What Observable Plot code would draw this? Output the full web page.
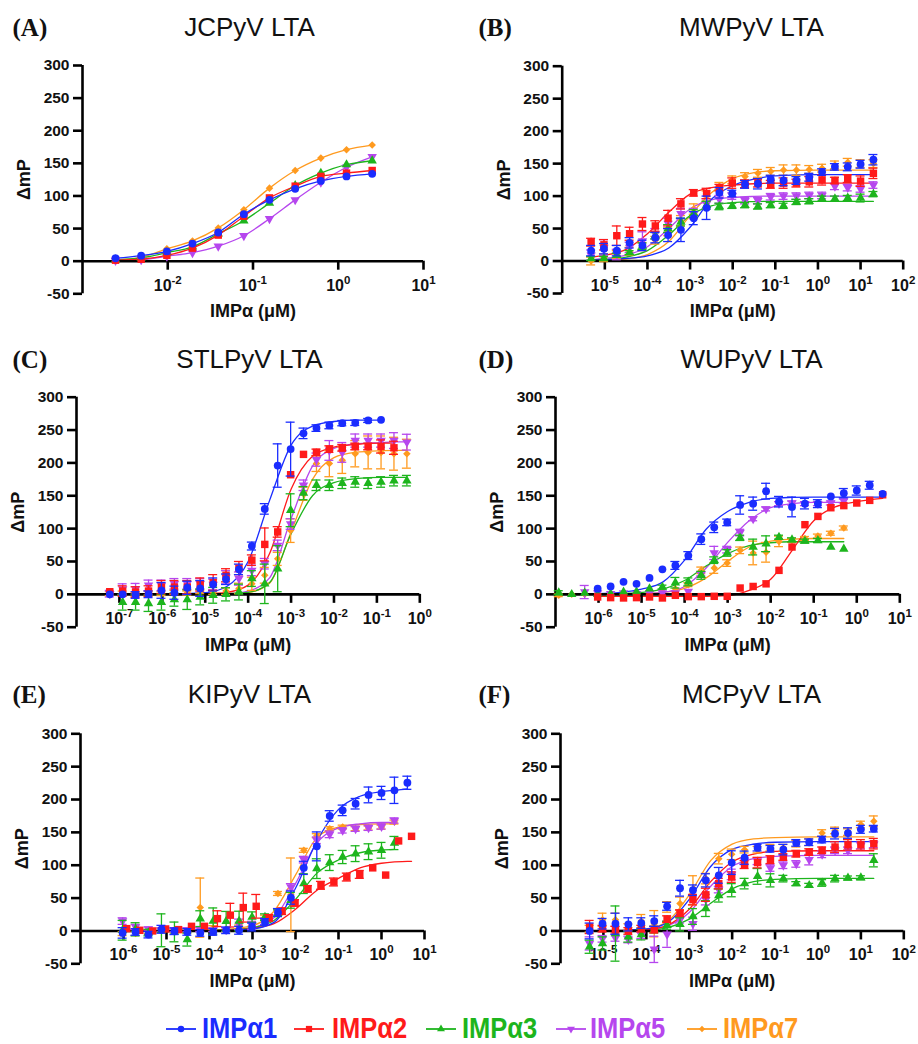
<!DOCTYPE html>
<html><head><meta charset="utf-8">
<script src="https://cdn.jsdelivr.net/npm/d3@7"></script>
<script src="https://cdn.jsdelivr.net/npm/@observablehq/plot@0.6"></script>
<style>
body{margin:0;background:#fff;}
#page{position:relative;width:918px;height:1044px;overflow:hidden;background:#fff;font-family:"Liberation Sans",Arial,sans-serif;}
#page svg.plot{position:absolute;}
.lg-icon{position:absolute;}
.lg-text{position:absolute;font-size:29px;line-height:24px;font-weight:bold;white-space:nowrap;transform:scaleX(0.88);transform-origin:0 0;}
</style></head>
<body><div id="page"></div>
<script>
// ---------------- data ----------------
const panelLabels = ["(A)", "(B)", "(C)", "(D)", "(E)", "(F)"];
const titles = ["JCPyV LTA", "MWPyV LTA", "STLPyV LTA", "WUPyV LTA", "KIPyV LTA", "MCPyV LTA"];
const seriesLabels = ["IMPα1", "IMPα2", "IMPα3", "IMPα5", "IMPα7"];
const yLabel = "ΔmP";
const xLabel = "IMPα (μM)";
const yTicks = [-50, 0, 50, 100, 150, 200, 250, 300];
const ticksA = [1e-2, 1e-1, 1, 10];
const ticksB = [1e-5, 1e-4, 1e-3, 1e-2, 1e-1, 1, 10, 100];
const ticksC = [1e-7, 1e-6, 1e-5, 1e-4, 1e-3, 1e-2, 1e-1, 1];
const ticksD = [1e-6, 1e-5, 1e-4, 1e-3, 1e-2, 1e-1, 1, 10];
const ticksE = [1e-6, 1e-5, 1e-4, 1e-3, 1e-2, 1e-1, 1, 10];
const ticksF = [1e-5, 1e-4, 1e-3, 1e-2, 1e-1, 1, 10, 100];

// Panel A (JCPyV)
const xA = [0.00244, 0.00488, 0.00977, 0.0195, 0.0391, 0.0781, 0.156, 0.3125, 0.625, 1.25, 2.5];
const A1 = [4.5, 8.5, 15, 27, 44, 72, 94, 111, 123, 130, 134];
const A2 = [1.5, 3, 9, 20, 40, 69, 97, 115, 130, 135, 139];
const A3 = [2, 5, 13, 22, 42, 62, 89, 116, 135, 148, 154];
const A5 = [1, 2, 7.5, 13, 23, 39, 65, 94, 121, 144, 160];
const A7 = [2, 6, 19, 31, 51, 79, 112, 139, 158, 171, 178];

// Panel B (MWPyV)
const xB = [4.77e-6, 9.54e-6, 1.91e-5, 3.81e-5, 7.63e-5, 1.53e-4, 3.05e-4, 6.10e-4, 1.22e-3, 2.44e-3, 4.88e-3, 9.77e-3, 1.95e-2, 3.91e-2, 7.81e-2, 0.156, 0.3125, 0.625, 1.25, 2.5, 5, 10, 20];
const B1 = [16, 19, 16, 28, 24, 36, 40, 48, 66, 82, 105, 104, 118, 119, 126, 124, 124, 129, 137, 145, 145, 149, 156];
const eB1 = [8, 8, 8, 8, 8, 8, 10, 18, 10, 18, 8, 5, 6, 8, 6, 8, 6, 6, 5, 5, 6, 6, 8];
const B2 = [29, 25, 39, 42, 57, 54, 66, 88, 105, 104, 113, 120, 119, 120, 118, 120, 120, 122, 125, 124, 127, 123, 135];
const eB2 = [6, 8, 15, 10, 10, 8, 12, 8, 5, 8, 5, 8, 6, 6, 6, 8, 6, 8, 8, 5, 6, 8, 8];
const B3 = [4, 4, 9, 13, 23, 39, 50, 60, 73, 86, 84, 85, 86, 84, 86, 85, 91, 92, 96, 96, 97, 97, 103];
const eB3 = [3, 3, 3, 3, 5, 5, 6, 6, 6, 6, 5, 4, 4, 4, 4, 4, 4, 4, 4, 4, 4, 6, 4];
const B5 = [9, 21, 10, 21, 31, 42, 58, 73, 73, 88, 95, 100, 93, 93, 99, 100, 100, 101, 101, 115, 113, 111, 117];
const eB5 = [8, 12, 8, 8, 14, 8, 8, 8, 8, 8, 6, 5, 5, 5, 5, 5, 5, 5, 5, 5, 5, 5, 5];
const B7 = [0, 5, 10, 15, 22, 32, 45, 62, 80, 100, 115, 125, 130, 135, 138, 140, 140, 141, 143, 148, 152, 150, 150];
const eB7 = [6, 6, 6, 6, 6, 6, 6, 8, 8, 8, 6, 6, 6, 6, 6, 8, 8, 6, 6, 6, 6, 6, 6];
const cxB = [4.77e-6, 1e-5, 3.16e-5, 1e-4, 3.16e-4, 1e-3, 3.16e-3, 1e-2, 3.16e-2, 0.1, 1, 10, 20];
const cB1 = [1, 2, 4, 8, 20, 52, 95, 116, 126, 131, 133, 133, 133];
const cB2 = [6, 9, 18, 42, 75, 103, 113, 117, 119, 120, 120, 120, 120];
const cB3 = [1, 2, 6, 16, 40, 70, 85, 90, 91.5, 92, 92, 92, 92];
const cB5 = [2, 4, 9, 22, 50, 80, 94, 98, 99.5, 100, 100, 100, 100];
const cB7 = [0, 1, 3, 10, 30, 70, 105, 127, 136, 139, 140, 140, 140];

// Panel C (STLPyV)
const xC = [5.96e-8, 1.19e-7, 2.38e-7, 4.77e-7, 9.54e-7, 1.91e-6, 3.81e-6, 7.63e-6, 1.53e-5, 3.05e-5, 6.10e-5, 1.22e-4, 2.44e-4, 4.88e-4, 9.77e-4, 1.95e-3, 3.91e-3, 7.81e-3, 1.56e-2, 3.13e-2, 6.25e-2, 0.125, 0.25, 0.5];
const C1 = [0, 0, -1, 0, 6, 2.5, 10, 9, 15, 23, 38, 73.5, 130, 196, 221, 245, 253, 257, 260.5, 261, 264.6, 265.6, null, null];
const eC1 = [0, 0, 5, 5, 12, 10, 10, 12, 10, 8, 8, 6, 8, 33, 41, 8, 5, 5, 4, 4, 3, 0, null, null];
const C2 = [4, 5, 3.5, 5, 11, 11, 11, 15, 18, 29, 40, 52, 76, 95, 182, 213, 216, 221, 223, 225, 225, 225, 223, null];
const eC2 = [0, 8, 8, 8, 10, 10, 10, 10, 12, 10, 10, 8, 25, 8, 0, 0, 5, 5, 5, 5, 5, 10, 10, null];
const C3 = [null, -12, -12, -14, -12, -8, -8, -4, -1.5, 0, 3.5, 24, 16, 39, 128, 154, 166, 166, 169, 171, 169, 171, 173, 173];
const eC3 = [null, 12, 12, 12, 12, 10, 15, 12, 12, 10, 12, 12, 30, 35, 25, 10, 8, 8, 8, 8, 8, 8, 8, 8];
const C5 = [1, 8, 8.6, 13.7, 13.7, 16, 16, 16, 15, 26, 24, 36.5, 46.6, 74.5, 107, 166, 205, 219, 216, 234, 234, 234, 234, 231.6];
const eC5 = [5, 8, 8, 8, 8, 8, 8, 8, 8, 10, 10, 8, 8, 8, 8, 8, 10, 15, 15, 10, 10, 10, 12, 12];
const C7 = [1, 2, 0, 2, 1, 3, 2, 4, 3, 5, 9, 16, 29, 54, 97, 153, 199, 199, 204, 214, 216, 216, 214, 214];
const eC7 = [3, 3, 3, 3, 3, 3, 3, 3, 3, 5, 8, 10, 12, 10, 18, 10, 12, 20, 20, 20, 25, 25, 25, 22];
const cxC = [5.96e-8, 1e-7, 1e-6, 1e-5, 3.16e-5, 1e-4, 3.16e-4, 1e-3, 3.16e-3, 1e-2, 3.16e-2, 0.125, 0.25, 0.5];
const cC1 = [0, 0, 0.3, 2.5, 12, 50, 143, 227, 256, 263, 265, 265, null, null];
const cC2 = [0, 0, 0, 1, 3, 14, 62, 160, 210, 224, 228, 230, 230, null];
const cC3 = [null, 0, 0, 0.2, 1, 3, 18, 92, 150, 170, 176, 178, 178, 178];
const cC5 = [0, 0, 0, 0.3, 1, 5, 25, 115, 195, 222, 229, 231, 232, 232];
const cC7 = [0, 0, 0, 0.2, 1, 3, 17, 95, 175, 208, 216, 218.5, 219, 219];

// Panel D (WUPyV)
const xD = [1.19e-7, 2.38e-7, 4.77e-7, 9.54e-7, 1.91e-6, 3.81e-6, 7.63e-6, 1.53e-5, 3.05e-5, 6.10e-5, 1.22e-4, 2.44e-4, 4.88e-4, 9.77e-4, 1.95e-3, 3.91e-3, 7.81e-3, 1.56e-2, 3.13e-2, 6.25e-2, 0.125, 0.25, 0.5, 1, 2, 4];
const D1 = [null, null, null, 8.6, 12, 19, 16, 25, 38, 44, 59, 84, 102, 109.5, 136, 138, 157, 141, 133, 138, 138, 149, 154, 158, 166, 153];
const eD1 = [null, null, null, 0, 0, 0, 0, 0, 0, 6, 6, 8, 8, 5, 14, 10, 12, 8, 15, 8, 6, 0, 7, 7, 6, 0];
const D2 = [null, null, null, -4, -5, -5.5, -5, -4, -5.5, -1.5, -3.5, -3.5, -3, -3, 9.6, 12, 16, 36.5, 72, 106, 118.6, 131.8, 135, 139, 143, 151.5];
const eD2 = [null, null, null, 0, 0, 0, 0, 0, 0, 0, 0, 0, 0, 0, 0, 0, 0, 0, 0, 0, 0, 0, 0, 0, 0, 0];
const D3 = [2.5, 0, 2, 0, 1, 3.5, 4, 8.6, 11, 17.7, 19, 29, 52, 63, 86, 72, 77, 87, 83, 81, 82, 72, 69, null, null, null];
const eD3 = [3, 0, 0, 0, 0, 0, 0, 0, 3, 8, 6, 6, 5, 5, 4, 12, 12, 3, 3, 3, 3, 0, 0, null, null, null];
const D5 = [null, null, 3.5, 2, 1, 2, 1, 2, 2, 2, 4.5, 31, 63, 68, 94, 115, 130, 138, 139, 138, 138, 139, 142, null, null, null];
const eD5 = [null, null, 10, 0, 0, 0, 0, 0, 0, 0, 0, 3, 10, 5, 5, 3, 3, 3, 3, 3, 3, 3, 3, null, null, null];
const D7 = [-1.5, 0, 0, 1, 1, 1, 2, 3, 4, 8.6, 14.7, 36.5, 40, 47.6, 67, 63, 64, 80.6, 82, 85, 88.7, 93, 101, null, null, null];
const eD7 = [2, 0, 0, 0, 0, 0, 0, 0, 0, 0, 3, 5, 8, 5, 5, 18, 15, 8, 3, 3, 3, 3, 3, null, null, null];
const cxD = [1.19e-7, 9.54e-7, 3.16e-6, 1e-5, 3.16e-5, 1e-4, 3.16e-4, 1e-3, 3.16e-3, 1e-2, 3.16e-2, 0.1, 0.316, 0.5, 1, 4];
const cD1 = [null, 1, 3, 8, 19, 52, 99, 126, 140, 146, 147.5, 148, 148, 148, 148, 148];
const cD2 = [null, -3, -3, -3, -3, -3, -3, -2, 6, 23, 67, 112, 133, 137, 141, 146];
const cD3 = [0, 0.5, 1, 3, 8, 21, 43, 62, 74, 78.5, 80, 80, 80, 80, null, null];
const cD5 = [0, 0.2, 0.5, 1, 3, 12, 40, 79, 112, 132, 138, 140, 140, 140, null, null];
const cD7 = [0, 0, 0.3, 1, 3, 9, 25, 50, 72, 81, 84, 85, 85, 85, null, null];

// Panel E (KIPyV)
const xE = [9.54e-7, 1.91e-6, 3.81e-6, 7.63e-6, 1.53e-5, 3.05e-5, 6.10e-5, 1.22e-4, 2.44e-4, 4.88e-4, 9.77e-4, 1.95e-3, 3.91e-3, 7.81e-3, 1.56e-2, 3.13e-2, 6.25e-2, 0.125, 0.25, 0.5, 1, 2, 4];
const xE2 = [1.19e-6, 2.38e-6, 4.77e-6, 9.54e-6, 1.91e-5, 3.81e-5, 7.63e-5, 1.53e-4, 3.05e-4, 6.10e-4, 1.22e-3, 2.44e-3, 4.88e-3, 9.77e-3, 1.95e-2, 3.91e-2, 7.81e-2, 0.156, 0.3125, 0.625, 1.25, 2.5, 5];
const E1 = [-3, -1.5, -5.6, 2.5, -0.5, -1.5, -3, -1.5, 1, 1, 6, 13.7, 28, 50.7, 96, 128.7, 175, 183.5, 193.6, 207, 210, 214, 225.5];
const eE1 = [8, 5, 5, 6, 5, 5, 5, 5, 5, 6, 6, 5, 6, 10, 10, 22, 8, 8, 8, 12, 10, 20, 10];
const E2 = [3.5, 1, 0, 3, 2, 7, 7, 18.7, 24, 35.5, 37.5, 20, 30, 42.6, 64, 69.4, 74.5, 82, 86, 96, 85, 137, 144];
const eE2 = [0, 0, 0, 0, 0, 0, 0, 12, 18, 22, 18, 5, 5, 5, 5, 6, 6, 6, 6, 0, 0, 0, 0];
const E3 = [1, 2.5, -2.5, 1, -1.5, -13, 18.7, 15, 14.7, 15, 21, 21, 27, 46.6, 72, 94.8, 104, 112.5, 117.6, 120.6, 122.7, 133.8, null];
const eE3 = [15, 10, 5, 25, 15, 10, 12, 20, 15, 15, 8, 5, 5, 12, 15, 15, 12, 10, 12, 12, 12, 10, null];
const E5 = [15, 6, 3, 2, 2, 2, 2, 2, 2, 10, 8.6, 15, 29, 67, 108.5, 138, 147, 153, 155.6, 157, 159, 168, null];
const eE5 = [5, 4, 3, 3, 3, 3, 3, 3, 3, 8, 6, 5, 5, 5, 5, 5, 5, 4, 4, 4, 4, 4, null];
const E7 = [-4, -4, -1.5, 1, 0, 0, 35.5, 5, 2, 6, 10, 21, 57, 55, 122.7, 145, 155.6, 158, 155.6, 156.6, 158, 165.7, null];
const eE7 = [3, 3, 3, 3, 3, 3, 45, 3, 3, 3, 3, 3, 3, 56, 3, 3, 3, 3, 3, 3, 3, 3, null];
const cxE = [9.54e-7, 1e-5, 1e-4, 3.16e-4, 1e-3, 3.16e-3, 1e-2, 3.16e-2, 0.1, 0.316, 1, 2, 4, 5];
const cE1 = [0, 0, 0.5, 1, 3, 13, 65, 137, 185, 205, 212, 214, 216, null];
const cE2 = [0, 0, 0.5, 1.5, 4, 11, 33, 62, 80, 96, 103, 105, 106, 106];
const cE3 = [0, 0, 1, 2, 5, 16, 48, 88, 108, 119, 123, 124, null, null];
const cE5 = [0, 0, 0.5, 1.5, 5, 20, 72, 134, 157, 163, 165, 165, null, null];
const cE7 = [0, 0, 1, 3, 8, 30, 85, 142, 158, 162, 163, 163, null, null];

// Panel F (MCPyV)
const xF = [4.77e-6, 9.54e-6, 1.91e-5, 3.81e-5, 7.63e-5, 1.53e-4, 3.05e-4, 6.10e-4, 1.22e-3, 2.44e-3, 4.88e-3, 9.77e-3, 1.95e-2, 3.91e-2, 7.81e-2, 0.156, 0.3125, 0.625, 1.25, 2.5, 5, 10, 20];
const F1 = [0, 11, 11, 10, 12, 15, 37.5, 65, 62, 77, 84.6, 104, 111.5, 126.7, 125, 123.7, 134, 135, 139, 148, 149, 154.6, 155.6];
const eF1 = [12, 8, 16, 10, 8, 8, 6, 12, 8, 10, 12, 18, 10, 5, 5, 8, 5, 5, 5, 8, 8, 6, 5];
const F2 = [6, 3.5, 2, 0, 3.5, 2, 18, 27, 47.6, 55, 72, 82, 101, 104, 108.5, 112.5, 117.6, 120, 122.7, 127.7, 131, 131, 132.8];
const eF2 = [10, 5, 5, 5, 5, 5, 5, 5, 8, 10, 8, 8, 6, 8, 6, 5, 5, 5, 5, 8, 8, 8, 8];
const F3 = [-24, -19, -4, -9, -5.6, 2, 8.6, 10, 22, 34, 54, 62, 72, 83, 77, 79.6, 72, 69.4, 73, 79.6, 80.6, 81, 107.5];
const eF3 = [10, 10, 42, 8, 8, 5, 6, 10, 12, 12, 10, 10, 8, 12, 10, 5, 3, 3, 5, 5, 3, 3, 10];
const F5 = [-19, -12, -10.6, -13, -6.6, -28, -5, 17, 11, 47.6, 63, 86, 106, 106, 95.8, 100, 102, 108.5, 116.6, 122.7, 122.7, 130, 131.8];
const eF5 = [10, 5, 5, 5, 5, 20, 20, 5, 10, 8, 5, 8, 5, 5, 5, 5, 5, 8, 5, 5, 5, 5, 5];
const F7 = [3.5, 17, 17, 6, 15, 11, 36.5, 41.6, 62, 79.6, 110, 116.6, 123.7, 123.7, 126.7, 126.7, 132.8, 135, 149, 153, 150.5, 162, 167];
const eF7 = [5, 10, 10, 5, 10, 20, 8, 10, 22, 8, 8, 8, 5, 5, 5, 5, 5, 5, 5, 5, 5, 5, 8];
const cxF = [4.77e-6, 1e-5, 1e-4, 3.16e-4, 1e-3, 3.16e-3, 1e-2, 3.16e-2, 0.1, 1, 10, 20];
const cF1 = [0, 0, 3, 13, 48, 98, 124, 132, 135, 136, 136, 136];
const cF2 = [0, 0, 2, 9, 33, 75, 105, 117, 121, 122, 122, 122];
const cF3 = [0, 0, 1, 5, 18, 42, 64, 75, 78.5, 80, 80, 80];
const cF5 = [0, 0, 2, 8, 28, 68, 98, 110, 113.5, 115, 115, 115];
const cF7 = [0, 0, 3, 15, 55, 107, 132, 140, 142, 143, 143, 143];

// ---------------- rendering ----------------
const SQ3 = Math.sqrt(3);
const triDown = {draw(ctx, size) {
  const y = -Math.sqrt(size / (SQ3 * 3));
  ctx.moveTo(0, -y * 2); ctx.lineTo(-SQ3 * y, y); ctx.lineTo(SQ3 * y, y); ctx.closePath();
}};
const rhombus = {draw(ctx, size) {
  const h = Math.sqrt(size / 2);
  ctx.moveTo(0, -h); ctx.lineTo(h, 0); ctx.lineTo(0, h); ctx.lineTo(-h, 0); ctx.closePath();
}};
const COLORS = {"1": "#1a2cff", "2": "#ff1a1a", "3": "#1db51d", "5": "#b646ee", "7": "#ff9a1f"};
// drawing order (last on top)
const SER = [
  {k: "7", symbol: rhombus, r: 3.0},
  {k: "5", symbol: triDown, r: 3.5},
  {k: "3", symbol: "triangle", r: 3.5},
  {k: "2", symbol: "square", r: 4.2},
  {k: "1", symbol: "circle", r: 3.9}
];
const SANS = "Liberation Sans, Arial, Helvetica, sans-serif";
const SERIF = "Liberation Serif, Times New Roman, serif";

const panels = [
  {i: 0, col: 0, top: 0, h: 330, ml: 82, mr: 36, mt: 65, mb: 36.7, xdom: [1e-3, 1e1], ticks: ticksA, base: 35.5,
   pts: {"1": [xA, A1], "2": [xA, A2], "3": [xA, A3], "5": [xA, A5], "7": [xA, A7]},
   fit: {"1": [xA, A1], "2": [xA, A2], "3": [xA, A3], "5": [xA, A5], "7": [xA, A7]}},
  {i: 1, col: 1, top: 0, h: 330, ml: 102.7, mr: 15.3, mt: 65.7, mb: 37, xdom: [1e-6, 1e2], ticks: ticksB, base: 35.5,
   pts: {"1": [xB, B1, eB1], "2": [xB, B2, eB2], "3": [xB, B3, eB3], "5": [xB, B5, eB5], "7": [xB, B7, eB7]},
   fit: {"1": [cxB, cB1], "2": [cxB, cB2], "3": [cxB, cB3], "5": [cxB, cB5], "7": [cxB, cB7]}},
  {i: 2, col: 0, top: 330, h: 335, ml: 76, mr: 39.7, mt: 66.7, mb: 38.3, xdom: [1e-8, 1e0], ticks: ticksC, base: 367,
   pts: {"1": [xC, C1, eC1], "2": [xC, C2, eC2], "3": [xC, C3, eC3], "5": [xC, C5, eC5], "7": [xC, C7, eC7]},
   fit: {"1": [cxC, cC1], "2": [cxC, cC2], "3": [cxC, cC3], "5": [cxC, cC5], "7": [cxC, cC7]}},
  {i: 3, col: 1, top: 330, h: 335, ml: 96, mr: 18.7, mt: 66.7, mb: 38.3, xdom: [1e-7, 1e1], ticks: ticksD, base: 367,
   pts: {"1": [xD, D1, eD1], "2": [xD, D2, eD2], "3": [xD, D3, eD3], "5": [xD, D5, eD5], "7": [xD, D7, eD7]},
   fit: {"1": [cxD, cD1], "2": [cxD, cD2], "3": [cxD, cD3], "5": [cxD, cD5], "7": [cxD, cD7]}},
  {i: 4, col: 0, top: 665, h: 330, ml: 80, mr: 35, mt: 68.3, mb: 31.7, xdom: [1e-7, 1e1], ticks: ticksE, base: 702,
   pts: {"1": [xE, E1, eE1], "2": [xE2, E2, eE2], "3": [xE, E3, eE3], "5": [xE, E5, eE5], "7": [xE, E7, eE7]},
   fit: {"1": [cxE, cE1], "2": [cxE, cE2], "3": [cxE, cE3], "5": [cxE, cE5], "7": [cxE, cE7]}},
  {i: 5, col: 1, top: 665, h: 330, ml: 101, mr: 14.7, mt: 68.3, mb: 31.7, xdom: [1e-6, 1e2], ticks: ticksF, base: 702,
   pts: {"1": [xF, F1, eF1], "2": [xF, F2, eF2], "3": [xF, F3, eF3], "5": [xF, F5, eF5], "7": [xF, F7, eF7]},
   fit: {"1": [cxF, cF1], "2": [cxF, cF2], "3": [cxF, cF3], "5": [cxF, cF5], "7": [cxF, cF7]}}
];

function rows(x, y, e) {
  const out = [];
  for (let i = 0; i < x.length; i++) {
    if (y[i] == null) continue;
    out.push({x: x[i], y: y[i], e: e && e[i] ? e[i] : 0});
  }
  return out;
}

function makePanel(p) {
  const W = 459;
  const [x0, x1] = p.xdom;
  const svgLeft = p.col * W;
  const frameLeftAbs = svgLeft + p.ml;
  const frameTopAbs = p.top + p.mt;
  const AX = {stroke: "#000", strokeWidth: 2.6};
  const marks = [];
  // fitted curves
  for (const s of SER) {
    const [cx, cy] = p.fit[s.k];
    marks.push(Plot.line(rows(cx, cy), {x: "x", y: "y", stroke: COLORS[s.k], strokeWidth: 1.3, curve: "monotone-x"}));
  }
  // axes
  marks.push(Plot.ruleY([0], {x1: x0, x2: x1, ...AX}));
  marks.push(Plot.ruleX([x0], {y1: -50, y2: 300, ...AX}));
  marks.push(Plot.ruleY(yTicks, {y: d => d, x1: x0, x2: x0, insetLeft: -9, ...AX}));
  marks.push(Plot.ruleX(p.ticks, {x: d => d, y1: 0, y2: 0, insetBottom: -9, ...AX}));
  marks.push(Plot.text(yTicks, {x: x0, y: d => d, text: d => String(d), dx: -13, textAnchor: "end", lineAnchor: "middle",
    fontSize: 15.5, fontWeight: "bold", fontFamily: SANS, fill: "#111"}));
  marks.push(Plot.text(p.ticks, {x: d => d, y: 0, text: d => "10^" + Math.round(Math.log10(d)), dy: 29.5,
    textAnchor: "middle", lineAnchor: "bottom", fontSize: 16, fontWeight: "bold", fontFamily: SANS, fill: "#111"}));
  // points + error bars
  for (const s of SER) {
    const [px, py, pe] = p.pts[s.k];
    const d = rows(px, py, pe);
    const de = d.filter(r => r.e > 0);
    const st = {stroke: COLORS[s.k], strokeWidth: 1.3};
    marks.push(Plot.ruleX(de, {x: "x", y1: r => r.y - r.e, y2: r => r.y + r.e, ...st}));
    marks.push(Plot.ruleY(de, {y: r => r.y + r.e, x1: "x", x2: "x", insetLeft: -4.5, insetRight: -4.5, ...st}));
    marks.push(Plot.ruleY(de, {y: r => r.y - r.e, x1: "x", x2: "x", insetLeft: -4.5, insetRight: -4.5, ...st}));
    marks.push(Plot.dot(d, {x: "x", y: "y", symbol: s.symbol, r: s.r, fill: COLORS[s.k], stroke: "none"}));
  }
  // labels & titles
  const labelLeft = p.col ? 478 : 12;
  const titleCenter = p.col ? 751 : 249;
  marks.push(Plot.text([panelLabels[p.i]], {frameAnchor: "top-left", text: d => d,
    dx: labelLeft - frameLeftAbs, dy: p.base - frameTopAbs, textAnchor: "start", lineAnchor: "bottom",
    fontFamily: SERIF, fontWeight: "bold", fontSize: 25, fill: "#111"}));
  marks.push(Plot.text([titles[p.i]], {frameAnchor: "top-left", text: d => d,
    dx: titleCenter - frameLeftAbs, dy: p.base - frameTopAbs, textAnchor: "middle", lineAnchor: "bottom",
    fontFamily: SANS, fontSize: 26, fill: "#111"}));
  marks.push(Plot.text([yLabel], {frameAnchor: "left", text: d => d, dx: -58, rotate: -90,
    textAnchor: "middle", lineAnchor: "middle", fontFamily: SANS, fontWeight: "bold", fontSize: 18, fill: "#111"}));
  marks.push(Plot.text([xLabel], {frameAnchor: "bottom", text: d => d, dy: 23.4,
    textAnchor: "middle", lineAnchor: "bottom", fontFamily: SANS, fontWeight: "bold", fontSize: 18, fill: "#111"}));

  const svg = Plot.plot({
    width: W, height: p.h,
    marginLeft: p.ml, marginRight: p.mr, marginTop: p.mt, marginBottom: p.mb,
    x: {type: "log", domain: p.xdom, axis: null},
    y: {domain: [-50, 300], axis: null},
    style: {background: "none", overflow: "visible"},
    marks
  });
  svg.classList.add("plot");
  svg.style.left = svgLeft + "px";
  svg.style.top = p.top + "px";
  // superscript exponents on log tick labels
  d3.select(svg).selectAll("text").each(function () {
    const m = /^10\^(-?\d+)$/.exec(this.textContent);
    if (m) {
      this.textContent = "10";
      const ts = document.createElementNS("http://www.w3.org/2000/svg", "tspan");
      ts.setAttribute("dy", "-7");
      ts.setAttribute("font-size", "11.5");
      ts.textContent = m[1];
      this.appendChild(ts);
    }
  });
  return svg;
}

const page = document.getElementById("page");
for (const p of panels) page.appendChild(makePanel(p));

// ---------------- legend ----------------
const legendKeys = ["1", "2", "3", "5", "7"];
const legendLine = [166, 294, 426, 556, 687];
const legendText = [202, 332, 462, 590, 723];
legendKeys.forEach((k, j) => {
  const s = SER.find(t => t.k === k);
  const icon = d3.create("svg").attr("class", "lg-icon").attr("width", 30).attr("height", 16)
    .style("left", legendLine[j] + "px").style("top", "1021px");
  icon.append("line").attr("x1", 0).attr("x2", 30).attr("y1", 8).attr("y2", 8)
    .attr("stroke", COLORS[k]).attr("stroke-width", 1.8);
  const sym = typeof s.symbol === "string"
    ? {circle: d3.symbolCircle, square: d3.symbolSquare, triangle: d3.symbolTriangle}[s.symbol]
    : s.symbol;
  icon.append("path").attr("transform", "translate(15,8)")
    .attr("d", d3.symbol(sym, Math.PI * s.r * s.r * 0.7)()).attr("fill", COLORS[k]);
  page.appendChild(icon.node());
  const t = document.createElement("div");
  t.className = "lg-text";
  t.textContent = seriesLabels[j];
  t.style.color = COLORS[k];
  t.style.left = legendText[j] + "px";
  t.style.top = "1016px";
  page.appendChild(t);
});
</script>
</body></html>
